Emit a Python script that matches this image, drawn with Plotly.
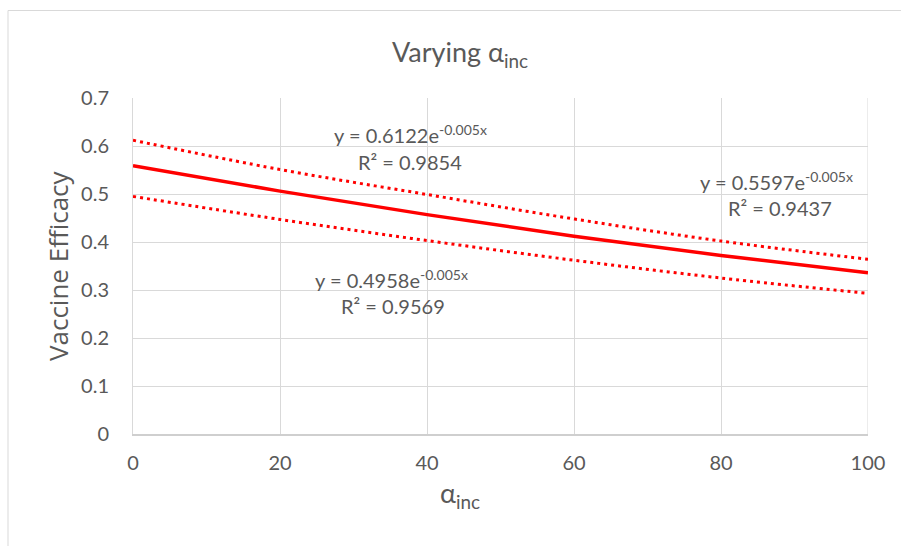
import plotly.graph_objects as go

# Data
alpha_inc = [0, 20, 40, 60, 80, 100]
upper_ve = [0.612, 0.551, 0.499, 0.448, 0.402, 0.364]
mid_ve = [0.559, 0.506, 0.457, 0.412, 0.372, 0.336]
lower_ve = [0.495, 0.447, 0.403, 0.362, 0.325, 0.293]

x_ticks = [0, 20, 40, 60, 80, 100]
y_ticks = [0, 0.1, 0.2, 0.3, 0.4, 0.5, 0.6, 0.7]
y_tick_labels = ["0", "0.1", "0.2", "0.3", "0.4", "0.5", "0.6", "0.7"]

eq_upper = ["y = 0.6122e<sup>-0.005x</sup>", "R² = 0.9854"]
eq_mid = ["y = 0.5597e<sup>-0.005x</sup>", "R² = 0.9437"]
eq_lower = ["y = 0.4958e<sup>-0.005x</sup>", "R² = 0.9569"]

RED = "#ff0000"
TXT = "#595959"
GRID = "#d9d9d9"
FONT = "Lato"

fig = go.Figure()
fig.add_trace(go.Scatter(x=alpha_inc, y=upper_ve, mode="lines", line_shape="spline",
                         line=dict(color=RED, width=3, dash="3px,4px"), showlegend=False))
fig.add_trace(go.Scatter(x=alpha_inc, y=lower_ve, mode="lines", line_shape="spline",
                         line=dict(color=RED, width=3, dash="3px,4px"), showlegend=False))
fig.add_trace(go.Scatter(x=alpha_inc, y=mid_ve, mode="lines", line_shape="spline",
                         line=dict(color=RED, width=3.5), showlegend=False))

ann_font = dict(family=FONT, size=20, color=TXT)
positions = [
    (eq_upper, (37.7, 0.624), (37.7, 0.566)),
    (eq_mid, (87.6, 0.527), (88.0, 0.470)),
    (eq_lower, (35.2, 0.322), (35.4, 0.266)),
]
annotations = []
for texts, p1, p2 in positions:
    annotations.append(dict(x=p1[0], y=p1[1], xref="x", yref="y", text=texts[0],
                            showarrow=False, font=ann_font, xanchor="center", yanchor="middle"))
    annotations.append(dict(x=p2[0], y=p2[1], xref="x", yref="y", text=texts[1],
                            showarrow=False, font=ann_font, xanchor="center", yanchor="middle"))

L, R, T, B = 133, 33, 98, 112
W, H = 901, 546
pw, ph = W - L - R, H - T - B

def px_x(p):
    return (p - L) / pw

def px_y(p):
    return (H - B - p) / ph

fig.update_layout(
    width=W, height=H,
    margin=dict(l=L, r=R, t=T, b=B, autoexpand=False),
    paper_bgcolor="white", plot_bgcolor="white",
    title=dict(text="Varying α<sub>inc</sub>", x=px_x(460), xref="paper", xanchor="center",
               y=1 - 53 / H, yanchor="middle",
               font=dict(family=FONT, size=27, color=TXT)),
    xaxis=dict(range=[0, 100], tickvals=x_ticks, showgrid=True, gridcolor=GRID, gridwidth=1,
               showline=True, linecolor="#cfcfcf", linewidth=2, zeroline=False,
               ticks="", ticklen=0, tickfont=dict(family=FONT, size=20, color=TXT),
               title=None, fixedrange=True, ticklabelstandoff=10),
    yaxis=dict(range=[0, 0.7], tickvals=y_ticks, ticktext=y_tick_labels, showgrid=True,
               gridcolor=GRID, gridwidth=1, showline=True, linecolor=GRID, linewidth=1,
               zeroline=False, ticks="outside", ticklen=19, tickcolor="rgba(0,0,0,0)",
               tickfont=dict(family=FONT, size=20, color=TXT),
               title=None, fixedrange=True),
    annotations=annotations + [
        dict(x=px_x(460), y=px_y(494), xref="paper", yref="paper", text="α<sub>inc</sub>",
             showarrow=False, font=dict(family=FONT, size=27, color=TXT),
             xanchor="center", yanchor="middle"),
        dict(x=px_x(58), y=px_y(266), xref="paper", yref="paper", text="Vaccine Efficacy",
             showarrow=False, textangle=-90, font=dict(family="Open Sans", size=26, color=TXT),
             xanchor="center", yanchor="middle"),
    ],
    shapes=[
        dict(type="rect", xref="paper", yref="paper", x0=px_x(8), x1=px_x(920),
             y0=px_y(560), y1=px_y(10.5), line=dict(color=GRID, width=1), layer="below"),
        dict(type="line", xref="x", yref="paper", x0=100, x1=100, y0=0, y1=1,
             line=dict(color=GRID, width=1), layer="below"),
    ],
)
fig.write_html("out.html", post_script="document.body.style.margin='0';",
               config={"displayModeBar": False})
